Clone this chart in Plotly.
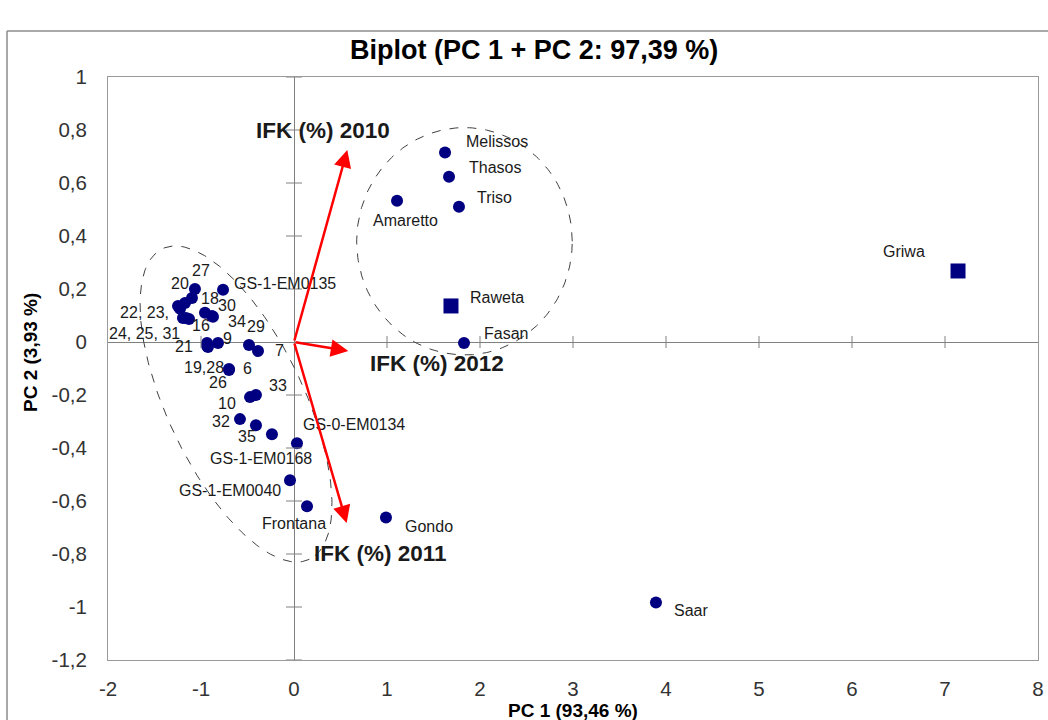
import numpy as np
import plotly.graph_objects as go

# ---------------- data ----------------
names = ["27", "20", "22", "23", "24", "25", "31", "16", "18", "30", "34",
         "21", "19", "28", "9", "29", "7", "6", "26", "10", "33", "32", "35",
         "GS-1-EM0135", "GS-1-EM0168", "GS-0-EM0134", "GS-1-EM0040", "Frontana",
         "Gondo", "Amaretto", "Melissos", "Thasos", "Triso", "Raweta", "Fasan",
         "Griwa", "Saar"]
pc1 = [-1.065, -1.097, -1.172, -1.247, -1.226, -1.194, -1.161, -1.129, -0.957, -0.882, -0.871,
       -0.935, -0.935, -0.925, -0.817, -0.484, -0.387, -0.699, -0.699, -0.473, -0.409, -0.581, -0.409,
       -0.763, -0.237, 0.032, -0.043, 0.140,
       0.989, 1.108, 1.624, 1.667, 1.774, 1.688, 1.828,
       7.14, 3.892]
pc2 = [0.200, 0.166, 0.147, 0.136, 0.125, 0.091, 0.091, 0.087, 0.110, 0.098, 0.095,
       -0.004, -0.015, -0.019, -0.004, -0.011, -0.034, -0.102, -0.106, -0.208, -0.200, -0.291, -0.314,
       0.197, -0.348, -0.382, -0.522, -0.620,
       -0.662, 0.533, 0.715, 0.624, 0.510, 0.136, -0.004,
       0.268, -0.983]

# labels that differ from the point name (grouped labels); None = no label
label_text = {"22": "22, 23,<br>24, 25, 31", "23": None, "24": None, "25": None, "31": None,
              "19": "19,28", "28": None}

variables = ["IFK (%) 2010", "IFK (%) 2011", "IFK (%) 2012"]
load_x = [0.573, 0.566, 0.584]
load_y = [0.725, -0.683, -0.034]

x_ticks = [-2, -1, 0, 1, 2, 3, 4, 5, 6, 7, 8]
x_tick_text = ["-2", "-1", "0", "1", "2", "3", "4", "5", "6", "7", "8"]
y_ticks = [1, 0.8, 0.6, 0.4, 0.2, 0, -0.2, -0.4, -0.6, -0.8, -1, -1.2]
y_tick_text = ["1", "0,8", "0,6", "0,4", "0,2", "0", "-0,2", "-0,4", "-0,6", "-0,8", "-1", "-1,2"]

title_text = "Biplot (PC 1 + PC 2: 97,39 %)"
x_title = "PC 1 (93,46 %)"
y_title = "PC 2 (3,93 %)"

# ---------------- layout / style ----------------
W, H = 1048, 720
ML, MR, MT, MB = 108, 10, 77, 60
XR = [-2, 8]
YR = [-1.2, 1]
PW, PH = W - ML - MR, H - MT - MB
PXX = PW / (XR[1] - XR[0])   # px per x unit
PXY = PH / (YR[1] - YR[0])   # px per y unit


def px_paper(px, py):
    """page pixel -> paper coordinates"""
    return (px - ML) / PW, 1 - (py - MT) / PH


NAVY = "#000080"
FONT = "Liberation Sans, Arial, sans-serif"
SQUARES = {"Raweta", "Griwa"}

# label offsets (px, right / up) relative to the point
label_off = {
    "27": (6, 19), "20": (-12, 15), "22": (-41, -20), "16": (12, -7), "18": (5, 14),
    "30": (15, 11), "34": (24, -5), "21": (-23, -3), "19": (-3, -22), "9": (9, 5),
    "29": (7, 18), "7": (21, 1), "6": (19, 1), "26": (-11, -12), "10": (-23, -6),
    "33": (22, 10), "32": (-19, -2), "35": (-9, -11),
    "GS-1-EM0135": (62, 6), "GS-1-EM0168": (-11, -24), "GS-0-EM0134": (57, 19),
    "GS-1-EM0040": (-60, -10), "Frontana": (-13, -17), "Gondo": (43, -9),
    "Amaretto": (8, -20), "Melissos": (52, 11), "Thasos": (46, 9), "Triso": (36, 9),
    "Raweta": (46, 8), "Fasan": (42, 10), "Griwa": (-54, 19), "Saar": (35, -8),
}
arrow_label_off = [(-24, 19), (34, -30), (89, -12)]

fig = go.Figure()

# ellipses (dashed)
t = np.linspace(0, 2 * np.pi, 240)
rcx, rcy, rrx, rry = 1.833, 0.380, 1.159, 0.429
fig.add_trace(go.Scatter(x=rcx + rrx * np.cos(t), y=rcy + rry * np.sin(t), mode="lines",
                         line=dict(color="#404040", width=1, dash="dash"),
                         hoverinfo="skip", showlegend=False))
lcx, lcy = -0.624, -0.234
la, lb, th = 171.8, 68.4, np.deg2rad(64.7)   # px semi-axes, angle (screen, y down)
sx = la * np.cos(t) * np.cos(th) - lb * np.sin(t) * np.sin(th)
sy = la * np.cos(t) * np.sin(th) + lb * np.sin(t) * np.cos(th)
fig.add_trace(go.Scatter(x=lcx + sx / PXX, y=lcy - sy / PXY, mode="lines",
                         line=dict(color="#404040", width=1, dash="dash"),
                         hoverinfo="skip", showlegend=False))

# points
sym = ["square" if n in SQUARES else "circle" for n in names]
size = [15 if n in SQUARES else 12 for n in names]
fig.add_trace(go.Scatter(x=pc1, y=pc2, mode="markers", text=names,
                         marker=dict(color=NAVY, symbol=sym, size=size, opacity=1,
                                     line=dict(width=0)),
                         showlegend=False))

annotations = []
for n, x, y in zip(names, pc1, pc2):
    txt = label_text.get(n, n)
    if txt is None:
        continue
    dx, dy = label_off.get(n, (20, 0))
    annotations.append(dict(x=x, y=y, xref="x", yref="y", text=txt, showarrow=False,
                            xshift=dx, yshift=dy, font=dict(family=FONT, size=16, color="#1a1a1a"),
                            align="center"))

# loading arrows
for v, lx, ly, (dx, dy) in zip(variables, load_x, load_y, arrow_label_off):
    annotations.append(dict(x=lx, y=ly, ax=0, ay=0, xref="x", yref="y", axref="x", ayref="y",
                            text="", showarrow=True, arrowhead=2, arrowsize=1.4,
                            arrowwidth=2.5, arrowcolor="#FF0000"))
    annotations.append(dict(x=lx, y=ly, xref="x", yref="y", text="<b>%s</b>" % v,
                            showarrow=False, xshift=dx, yshift=dy,
                            font=dict(family=FONT, size=22.5, color="#1a1a1a")))

# titles
tx, ty = px_paper(534, 50)
annotations.append(dict(x=tx, y=ty, xref="paper", yref="paper", text="<b>%s</b>" % title_text,
                        showarrow=False, xanchor="center", yanchor="middle",
                        font=dict(family=FONT, size=27, color="#000000")))
tx, ty = px_paper(573, 710)
annotations.append(dict(x=tx, y=ty, xref="paper", yref="paper", text="<b>%s</b>" % x_title,
                        showarrow=False, xanchor="center", yanchor="middle",
                        font=dict(family=FONT, size=19, color="#000000")))
tx, ty = px_paper(30, 353)
annotations.append(dict(x=tx, y=ty, xref="paper", yref="paper", text="<b>%s</b>" % y_title,
                        showarrow=False, textangle=-90, xanchor="center", yanchor="middle",
                        font=dict(family=FONT, size=19, color="#000000")))

# cross ticks on zero axes
shapes = []
for v in y_ticks:
    if v == 0:
        continue
    shapes.append(dict(type="line", xref="x", yref="y", x0=-8 / PXX, x1=8 / PXX, y0=v, y1=v,
                       line=dict(color="#808080", width=1)))
for v in x_ticks:
    if v == 0 or v in XR:
        continue
    shapes.append(dict(type="line", xref="x", yref="y", x0=v, x1=v, y0=-6 / PXY, y1=6 / PXY,
                       line=dict(color="#808080", width=1)))
# outer chart border (left + top)
bx, by = px_paper(7, 31)
shapes.append(dict(type="line", xref="paper", yref="paper", x0=bx, x1=bx, y0=-0.2, y1=by,
                   line=dict(color="#8c8c8c", width=1.5)))
shapes.append(dict(type="line", xref="paper", yref="paper", x0=bx, x1=1.1, y0=by, y1=by,
                   line=dict(color="#8c8c8c", width=1.5)))

fig.update_layout(
    width=W, height=H, margin=dict(l=ML, r=MR, t=MT, b=MB, autoexpand=False),
    paper_bgcolor="white", plot_bgcolor="white",
    annotations=annotations, shapes=shapes, showlegend=False,
    xaxis=dict(range=XR, tickvals=x_ticks, ticktext=x_tick_text, showgrid=False,
               zeroline=True, zerolinecolor="#808080", zerolinewidth=1,
               showline=True, mirror=True, linecolor="#9a9a9a", linewidth=1,
               ticks="", ticklabelstandoff=10, automargin=False,
               tickfont=dict(family=FONT, size=20.5, color="#333333"), fixedrange=True),
    yaxis=dict(range=YR, tickvals=y_ticks, ticktext=y_tick_text, showgrid=False,
               zeroline=True, zerolinecolor="#808080", zerolinewidth=1,
               showline=True, mirror=True, linecolor="#9a9a9a", linewidth=1,
               ticks="", ticklabelstandoff=16, automargin=False,
               tickfont=dict(family=FONT, size=20.5, color="#333333"), fixedrange=True),
)

fig.write_html("out.html", config={"displayModeBar": False, "responsive": False},
               post_script="document.body.style.margin='0px';"
                           "document.body.style.overflow='hidden';")
